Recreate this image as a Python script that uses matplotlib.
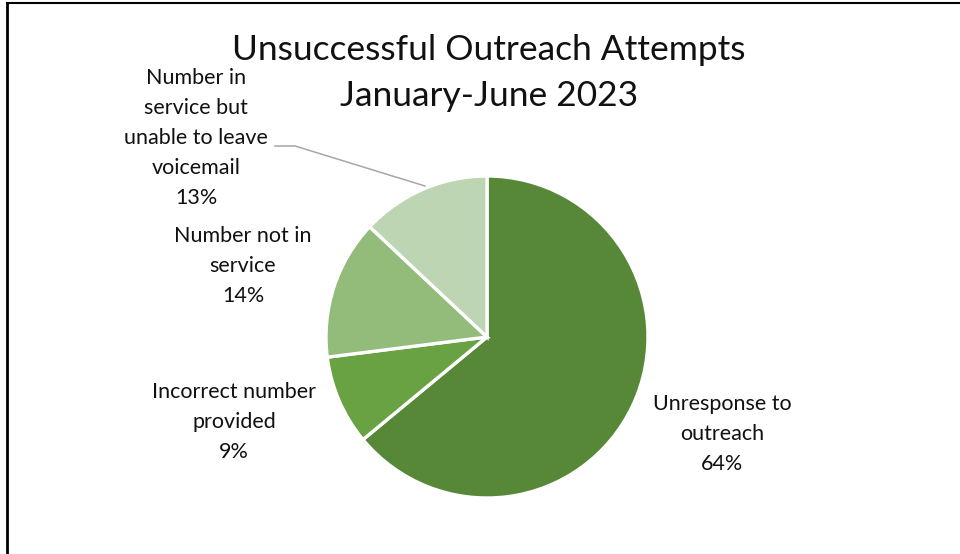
import matplotlib
matplotlib.use("Agg")
import matplotlib.pyplot as plt
from matplotlib.lines import Line2D

# Data
categories = ["Unresponse to\noutreach", "Incorrect number\nprovided",
              "Number not in\nservice", "Number in\nservice but\nunable to leave\nvoicemail"]
shares = [64, 9, 14, 13]
colors = ["#568838", "#69a243", "#93bc7b", "#bdd5b2"]
title_lines = ["Unsuccessful Outreach Attempts", "January-June 2023"]

plt.rcParams["font.family"] = ["Lato", "DejaVu Sans"]

W, H = 960, 554
fig = plt.figure(figsize=(W / 100, H / 100), dpi=100)
ax = fig.add_axes([0, 0, 1, 1])

def Y(py):
    return H - py

cx, cy, r = 487, Y(337), 161
ax.pie(shares, colors=colors, startangle=90, counterclock=False,
       center=(cx, cy), radius=r, frame=True,
       wedgeprops=dict(edgecolor="white", linewidth=2.4))
ax.set_xlim(0, W)
ax.set_ylim(0, H)
ax.set_aspect("equal")
ax.axis("off")

# Frame of the chart area (left and top edges)
ax.add_line(Line2D([7, 7], [Y(554), Y(3)], color="black", lw=2.0))
ax.add_line(Line2D([7, 960], [Y(3), Y(3)], color="black", lw=1.5))

fs_title = 25.5
ax.text(489, Y(50), title_lines[0], ha="center", va="center", fontsize=fs_title, color="#111111")
ax.text(489, Y(96), title_lines[1], ha="center", va="center", fontsize=fs_title, color="#111111")

label_pos = [(722, 434), (234, 422), (243, 266), (196, 138)]
fs_lab = 15.5
for cat, val, (lx, ly) in zip(categories, shares, label_pos):
    ax.text(lx, Y(ly), f"{cat}\n{val}%", ha="center", va="center",
            fontsize=fs_lab, color="#111111", linespacing=1.62)

# Leader line for the voicemail label
ax.add_line(Line2D([275, 295, 425], [Y(146), Y(146), Y(186)], color="#a6a6a6", lw=1.1))

fig.savefig("out.png", dpi=100)
